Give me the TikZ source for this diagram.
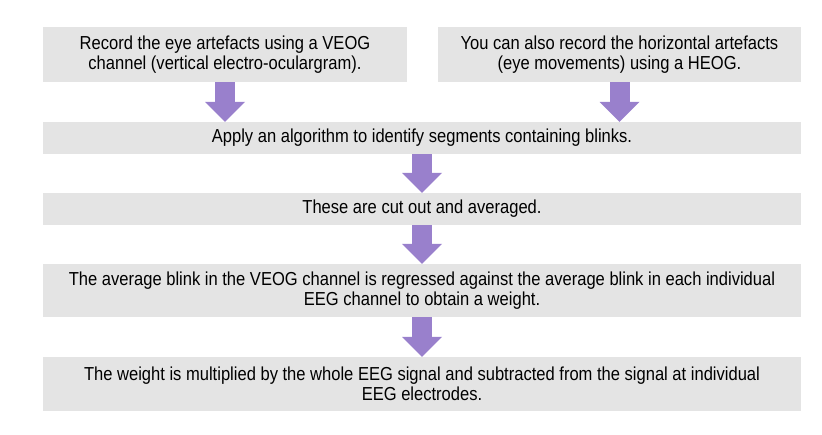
\documentclass[tikz,border=0pt]{standalone}
\usepackage{fontspec}
\setmainfont{Liberation Sans}[FakeStretch=0.88]
\usetikzlibrary{arrows.meta}
\definecolor{boxgray}{RGB}{228,228,228}
\definecolor{flowpurple}{RGB}{153,128,204}
\begin{document}
\begin{tikzpicture}
  [x=1pt,y=-1pt,
   every node/.style={fill=boxgray,align=center,inner sep=0pt,
     font=\fontsize{18.8}{19.7}\selectfont},
   flow/.style={draw=flowpurple,line width=20pt,
     -{Triangle[length=20pt,width=40pt,line width=0pt,fill=flowpurple]}}]
  \useasboundingbox (0,0) rectangle (822,434);
  \node[minimum width=364pt,minimum height=55pt] (veog) at (225,54.5)
    {Record the eye artefacts using a VEOG\\channel (vertical electro-oculargram).};
  \node[minimum width=363pt,minimum height=55pt] (heog) at (619.5,54.5)
    {You can also record the horizontal artefacts\\(eye movements) using a HEOG.};
  \node[minimum width=758pt,minimum height=32pt] (blink) at (422,138)
    {Apply an algorithm to identify segments containing blinks.};
  \node[minimum width=758pt,minimum height=32pt] (avg) at (422,209)
    {These are cut out and averaged.};
  \node[minimum width=758pt,minimum height=53pt] (regr) at (422,290.5)
    {The average blink in the VEOG channel is regressed against the average blink in each individual\\EEG channel to obtain a weight.};
  \node[minimum width=758pt,minimum height=54pt] (subtr) at (422,384)
    {The weight is multiplied by the whole EEG signal and subtracted from the signal at individual\\EEG electrodes.};

  \path[every edge/.style={flow}]
    (veog.south) edge (veog.south |- blink.north)
    (heog.south) edge (heog.south |- blink.north)
    (blink) edge (avg)
    (avg) edge (regr)
    (regr) edge (subtr);
\end{tikzpicture}
\end{document}
